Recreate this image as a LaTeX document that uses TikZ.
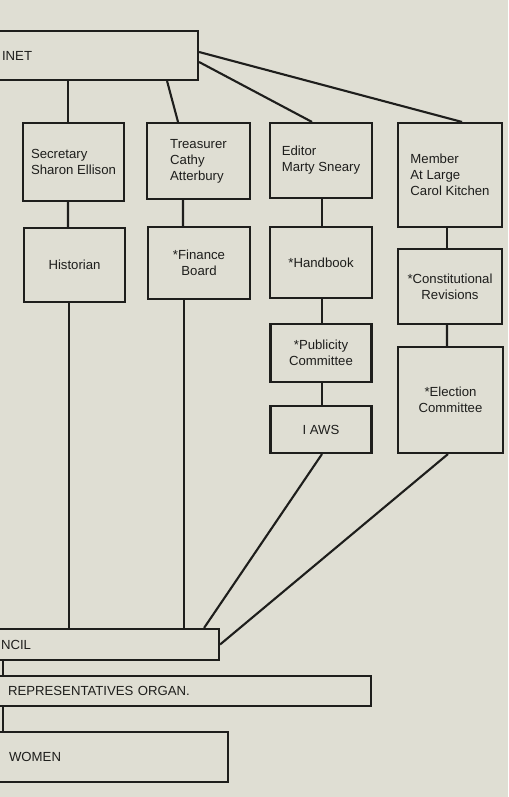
\documentclass[tikz,border=0pt]{standalone}
\usepackage{fontspec}
\setmainfont{Liberation Sans}
\definecolor{paper}{RGB}{223,222,211}
\definecolor{ink}{RGB}{30,30,28}

\begin{document}
\begin{tikzpicture}[x=0.02cm, y=-0.02cm,
		box/.style={draw=ink, line width=1.2pt, text=ink, font=\fontsize{7.5}{9.1}\selectfont, inner sep=2pt},
		wide/.style={box, anchor=west, align=left},
		link/.style={draw=ink, line width=1.2pt}]

		\useasboundingbox (0,0) rectangle (508,797);
		\fill[paper] (0,0) rectangle (508,797);
		\clip (0,0) rectangle (508,797);

		% top and bottom bars, cut at the left margin
		\node[wide, minimum height=0.98cm, inner xsep=0.42cm, text width=3.5cm]  (cab) at (-20, 55.5) {INET};
		\node[wide, minimum height=0.62cm, inner xsep=0.40cm, text width=3.96cm] (cou) at (-20,644.5) {NCIL};
		\node[wide, minimum height=0.60cm, inner xsep=0.54cm, text width=6.72cm] (rep) at (-20,691.0) {REPRESENTATIVES ORGAN.};
		\node[wide, minimum height=1.00cm, inner xsep=0.56cm, text width=3.82cm] (wom) at (-20,757.0) {WOMEN};

		% officers
		\node[box, align=left, minimum width=2.02cm, minimum height=1.56cm] (sec) at ( 73.5,162.0) {Secretary\\Sharon Ellison};
		\node[box, align=left, minimum width=2.06cm, minimum height=1.52cm] (tre) at (198.5,161.0) {Treasurer\\Cathy\\Atterbury};
		\node[box, align=left, minimum width=2.04cm, minimum height=1.50cm] (edi) at (321.0,160.5) {Editor\\Marty Sneary};
		\node[box, align=left, minimum width=2.08cm, minimum height=2.08cm] (mem) at (450.0,175.0) {Member\\At Large\\Carol Kitchen};

		% committees
		\node[box, align=center, minimum width=2.02cm, minimum height=1.48cm] (his)  at ( 74.5,265.0) {Historian};
		\node[box, align=center, minimum width=2.04cm, minimum height=1.44cm] (fin)  at (199.0,263.0) {*Finance\\Board};
		\node[box, align=center, minimum width=2.04cm, minimum height=1.42cm] (han)  at (321.0,262.5) {*Handbook};
		\node[box, align=center, minimum width=2.08cm, minimum height=1.50cm] (con)  at (450.0,286.5) {*Constitutional\\Revisions};
		\node[box, align=center, minimum width=2.02cm, minimum height=1.16cm] (pub)  at (321.0,353.0) {*Publicity\\Committee};
		\node[box, align=center, minimum width=2.02cm, minimum height=0.94cm] (iaws) at (321.0,429.5) {I AWS};
		\node[box, align=center, minimum width=2.10cm, minimum height=2.12cm] (ele)  at (450.5,400.0) {*Election\\Committee};

		\draw[link] ([xshift=-0.11cm]sec.north) -- ([xshift=-0.11cm]sec.north |- cab.south);
		\draw[link] ([xshift=-0.64cm]cab.south east) -- ([xshift=-0.41cm]tre.north);
		\draw[link] ([yshift=-0.13cm]cab.east) -- ([xshift=-0.18cm]edi.north);
		\draw[link] ([yshift= 0.07cm]cab.east) -- ([xshift= 0.24cm]mem.north);

		\draw[link] ([xshift=-0.11cm]sec.south) -- ([xshift=-0.13cm]his.north);
		\draw[link] ([xshift=-0.31cm]tre.south) -- ([xshift=-0.32cm]fin.north);
		\draw[link] ([xshift=0.02cm]edi.south) -- ([xshift=0.02cm]han.north);
		\draw[link] ([xshift=0.02cm]han.south) -- ([xshift=0.02cm]pub.north);
		\draw[link] ([xshift=0.02cm]pub.south) -- ([xshift=0.02cm]iaws.north);
		\draw[link] ([xshift=-0.06cm]mem.south) -- ([xshift=-0.06cm]con.north);
		\draw[link] ([xshift=-0.06cm]con.south) -- ([xshift=-0.07cm]ele.north);

		\draw[link] ([xshift=-0.11cm]his.south) -- ([xshift=-0.11cm]his.south |- cou.north);
		\draw[link] ([xshift=-0.30cm]fin.south) -- ([xshift=-0.30cm]fin.south |- cou.north);
		\draw[link] ([xshift=0.02cm]iaws.south) -- ([xshift=-0.32cm]cou.north east);
		\draw[link] ([xshift=-0.05cm]ele.south) -- (cou.east);

		\draw[link] ([xshift=0.46cm]cou.south west) -- ([xshift=0.46cm]rep.north west);
		\draw[link] ([xshift=0.46cm]rep.south west) -- ([xshift=0.46cm]wom.north west);

	\end{tikzpicture}
\end{document}
